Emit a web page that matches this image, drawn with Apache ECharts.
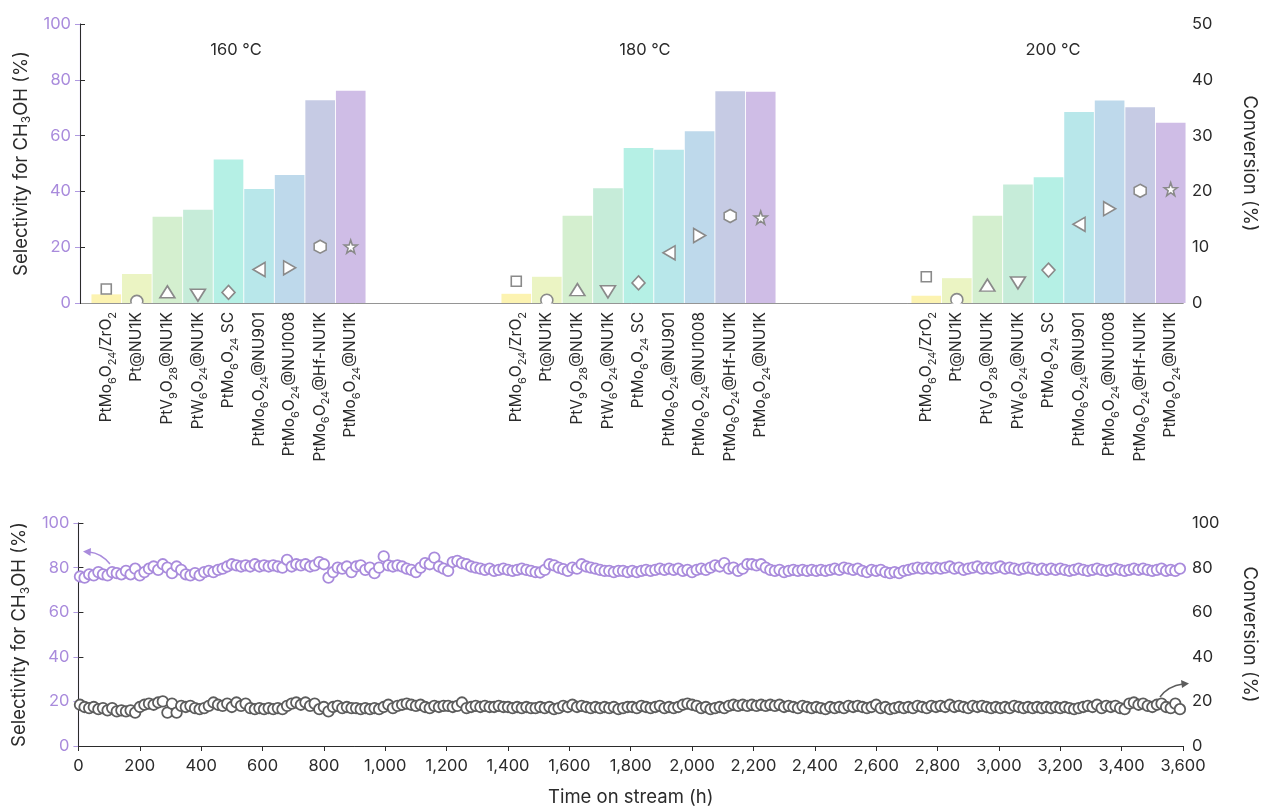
<!DOCTYPE html>
<html>
<head>
<meta charset="utf-8">
<script src="https://cdn.jsdelivr.net/npm/echarts@6/dist/echarts.min.js"></script>
<style>
html,body{margin:0;padding:0;background:#fff;}
#main{width:1267px;height:808px;}
</style>
</head>
<body>
<div id="main"></div>
<script>
// ---------- DATA ----------
const temps = ['160 °C', '180 °C', '200 °C'];
const catalysts = [
  'PtMo{s|6}O{s|24}/ZrO{s|2}',
  'Pt@NU1K',
  'PtV{s|9}O{s|28}@NU1K',
  'PtW{s|6}O{s|24}@NU1K',
  'PtMo{s|6}O{s|24} SC',
  'PtMo{s|6}O{s|24}@NU901',
  'PtMo{s|6}O{s|24}@NU1008',
  'PtMo{s|6}O{s|24}@Hf-NU1K',
  'PtMo{s|6}O{s|24}@NU1K'
];
// Selectivity for CH3OH (%) — bars, left axis
const sel160 = [3.1, 10.4, 30.9, 33.4, 51.4, 40.9, 45.9, 72.7, 76.1];
const sel180 = [3.3, 9.4, 31.3, 41.1, 55.6, 54.9, 61.6, 75.9, 75.7];
const sel200 = [2.6, 8.9, 31.3, 42.5, 45.1, 68.5, 72.6, 70.2, 64.6];
// Conversion (%) — markers, right axis
const conv160 = [2.5, 0.3, 2.0, 1.4, 1.9, 6.0, 6.3, 10.1, 10.1];
const conv180 = [3.9, 0.5, 2.4, 2.0, 3.6, 9.0, 12.1, 15.6, 15.3];
const conv200 = [4.7, 0.6, 3.2, 3.6, 5.9, 14.1, 16.9, 20.1, 20.4];

// Long-term stability
const timeH = [
  5,20,35,50,65,80,95,110,125,140,
  155,170,185,200,215,230,245,260,275,290,
  305,320,335,350,365,380,395,410,425,440,
  455,470,485,500,515,530,545,560,575,590,
  605,620,635,650,665,680,695,710,725,740,
  755,770,785,800,815,830,845,860,875,890,
  905,920,935,950,965,980,995,1010,1025,1040,
  1055,1070,1085,1100,1115,1130,1145,1160,1175,1190,
  1205,1220,1235,1250,1265,1280,1295,1310,1325,1340,
  1355,1370,1385,1400,1415,1430,1445,1460,1475,1490,
  1505,1520,1535,1550,1565,1580,1595,1610,1625,1640,
  1655,1670,1685,1700,1715,1730,1745,1760,1775,1790,
  1805,1820,1835,1850,1865,1880,1895,1910,1925,1940,
  1955,1970,1985,2000,2015,2030,2045,2060,2075,2090,
  2105,2120,2135,2150,2165,2180,2195,2210,2225,2240,
  2255,2270,2285,2300,2315,2330,2345,2360,2375,2390,
  2405,2420,2435,2450,2465,2480,2495,2510,2525,2540,
  2555,2570,2585,2600,2615,2630,2645,2660,2675,2690,
  2705,2720,2735,2750,2765,2780,2795,2810,2825,2840,
  2855,2870,2885,2900,2915,2930,2945,2960,2975,2990,
  3005,3020,3035,3050,3065,3080,3095,3110,3125,3140,
  3155,3170,3185,3200,3215,3230,3245,3260,3275,3290,
  3305,3320,3335,3350,3365,3380,3395,3410,3425,3440,
  3455,3470,3485,3500,3515,3530,3545,3560,3575,3590
];
const selTime = [
  76,75.5,77,76.5,78,77,76.5,78,77.5,77,
  78.5,77,79.5,76.5,78,79.5,80.5,79,81.5,80,
  77.5,80.5,79,77,76.5,77.5,76.5,78,78.5,78,
  79,79.5,80.5,81.5,81,80.5,81,80.5,81.5,80.5,
  81,80.5,81,80.5,80,83.5,80.5,81.5,81,81.5,
  80.5,81,82.5,81.5,75.5,78,80,79.5,80.5,78,
  80.5,81,79,80,77.5,80,85,81,80.5,81,
  80.5,79.5,79,78,80,82,81.5,84.5,80.5,79.5,
  78.5,82.5,83,82,81.5,80.5,80,79.5,79,79.5,
  78.5,79,79.5,79,78.5,79,79.5,79,78.5,78,
  77.8,79,81.5,81,80,79.3,78.5,80,79.5,81.5,
  80.5,80,79.5,79,78.5,78.5,78,78.5,78.5,78,
  78.5,78,78.5,79,78.5,79,79.5,79,79.5,79,
  79.5,78.5,79,78,79,79.5,79,80,81,80.5,
  82,79.5,80,78.5,79.5,81.5,81.5,81,81.5,80,
  79,78.5,79,78,78.5,79,78.5,79,78.5,79,
  78.5,79,78.5,79,79.5,79,80,79.5,79,79.5,
  78.5,78,79,78.5,79,78,77.5,78,77.5,78.5,
  79,79.5,80,79.5,80,79.5,80,79.5,80,80.5,
  79.5,80,79,79.5,80,80.5,79.5,80,79.5,80,
  80.5,79.5,80,79.5,79,79.5,80,79.5,79,79.5,
  79,79.5,79,79.5,79,78.5,79,79.5,79,78.5,
  79,79.5,79,78.5,79,79.5,79,78.5,79,79.5,
  79,79.5,79,78.5,79,79.5,78.5,79,78.5,79.5
];
const convTime = [
  18.5,17.5,17,17.5,16.5,17,16,17,15.5,16,
  15.5,16,15,17.5,18.5,19,18.5,19.5,20,15,
  19,15,18,17.5,18,17,16.5,17,18,19.5,
  18.5,18,19,17.5,19.5,18,19,17,16.5,17,
  16.5,17,16.5,17,16.5,18,19,19.5,18.5,19.5,
  18,19,16.5,17.5,15.5,17.5,18,17,17.5,17,
  17,16.5,17,16.5,17,16.5,17.5,18.5,17,18,
  18.5,19,18.5,18,18.5,17.5,17,18,17.5,18,
  18,17.5,18,19.5,17,17.5,18,17.5,18,17.5,
  17.5,18,17.5,17.5,17,17.5,17,17.5,17,17,
  17.5,17,17.5,16.5,17,18,17.5,18.5,17.5,18,
  17.5,17,17.5,17,17.5,17,17.5,16.5,17,17.5,
  17.5,17,18,17.5,17,17.5,18,17,17.5,17,
  17.5,18.5,19,18.5,18,17,17.5,16.5,17,17.5,
  17,18,18.5,18,18.5,18,18.5,18,18.5,18,
  18.5,18,18.5,17.5,18,17.5,17,18,17.5,17,
  17.5,17,16.5,17.5,17,17.5,17,18,17.5,18,
  17.5,17,17.5,18.5,17,17.5,16.5,17,17.5,17,
  17.5,17,18,17.5,17,18,17.5,18,17.5,18.5,
  17.5,18,17.5,17,18,17.5,18,17.5,17,17.5,
  17,17.5,17,18,17.5,17,17.5,17,17.5,17,
  17.5,17,17.5,17,17.5,17,16.5,17,17.5,18,
  17.5,18.5,17,18,17.5,18,17,16.5,19,19.5,
  18.5,19,18,17.5,18.5,19,17.5,17,19,16.5
];

// ---------- STYLE ----------
const FONT = 'Inter, "Noto Sans", sans-serif';
const PURPLE = '#a98bdc';
const PURPLE_AX = '#b09ae0';
const DARK = '#2b2b2b';
const GRAY_MK = '#8a8a8a';
const GRAY_PT = '#5c5c5c';
const barColors = ['#fcf3b1','#ebf4c3','#d4efcf','#c6ecd9','#b5f0e5','#b8e7ea','#bed9eb','#c6cbe4','#cfbde6'];
const HEX = 'path://M0,-10 L8.66,-5 L8.66,5 L0,10 L-8.66,5 L-8.66,-5 Z';
const STAR = 'path://M0,-10 L2.35,-3.24 L9.51,-3.09 L3.8,1.24 L5.88,8.09 L0,4 L-5.88,8.09 L-3.8,1.24 L-9.51,-3.09 L-2.35,-3.24 Z';
const markerDefs = [
  {symbol:'rect', size:[10,10], rot:0},
  {symbol:'circle', size:[12,12], rot:0},
  {symbol:'triangle', size:[15,12], rot:0},
  {symbol:'triangle', size:[15,12], rot:180},
  {symbol:'diamond', size:[13,14], rot:0},
  {symbol:'triangle', size:[14,12], rot:90},
  {symbol:'triangle', size:[14,12], rot:-90},
  {symbol:HEX, size:[12,13], rot:0},
  {symbol:STAR, size:[13,13], rot:0}
];

const TOP = 24, TOPH = 279;
const groupLefts = [91, 501, 911];
const GROUPW = 275;

const selSets = [sel160, sel180, sel200];
const convSets = [conv160, conv180, conv200];

const subRich = {
  s: {fontSize: 11, fontFamily: FONT, verticalAlign: 'bottom', lineHeight: 10, color: DARK}
};

const grids = [
  {left: 80, right: 70, top: TOP, height: TOPH},
  ...groupLefts.map(l => ({left: l, width: GROUPW, top: TOP, height: TOPH})),
  {left: 77, right: 74, top: 523, height: 223}
];

const hiddenX = (gi, pos) => ({
  type: 'value', gridIndex: gi, min: 0, max: 1, position: pos,
  axisLine: {show: true, lineStyle: {color: DARK, width: 1}},
  axisTick: {show: false}, axisLabel: {show: false}, splitLine: {show: false}
});

const xAxes = [
  hiddenX(0, 'bottom'),
  hiddenX(0, 'top'),
  ...groupLefts.map((l, i) => ({
    type: 'category', gridIndex: i + 1, data: catalysts,
    axisLine: {show: false}, axisTick: {show: false},
    axisLabel: {
      interval: 0, rotate: 90, margin: 9, fontSize: 15.5, fontFamily: FONT,
      color: DARK, lineHeight: 23, rich: subRich
    }
  })),
  {
    type: 'value', gridIndex: 4, min: 0, max: 3600, interval: 200,
    name: 'Time on stream (h)', nameLocation: 'middle', nameGap: 42,
    nameTextStyle: {fontSize: 18.5, fontFamily: FONT, color: DARK},
    axisLine: {show: true, lineStyle: {color: DARK}},
    axisTick: {show: true, length: 5, lineStyle: {color: DARK}},
    axisLabel: {fontSize: 16.5, fontFamily: FONT, color: DARK, margin: 12,
      formatter: v => v.toLocaleString('en-US')},
    splitLine: {show: false}
  },
  hiddenX(4, 'top')
];

const selAxis = (gi, show) => ({
  type: 'value', gridIndex: gi, min: 0, max: 100, interval: 20, position: 'left',
  show: show,
  name: show ? 'Selectivity for CH{s|3}OH (%)' : '',
  nameLocation: 'middle', nameGap: 45,
  nameTextStyle: {fontSize: 18.5, fontFamily: FONT, color: DARK, lineHeight: 23, rich: {s: {fontSize: 12, fontFamily: FONT, verticalAlign: 'bottom', lineHeight: 11, color: DARK}}},
  axisLine: {show: true, lineStyle: {color: PURPLE_AX, width: 1.2}},
  axisTick: {show: true, length: 5, lineStyle: {color: PURPLE_AX}},
  axisLabel: {fontSize: 16.5, fontFamily: FONT, color: PURPLE, margin: 9},
  splitLine: {show: false}
});
const convAxis = (gi, show, max, interval) => ({
  type: 'value', gridIndex: gi, min: 0, max: max, interval: interval, position: 'right',
  show: show,
  name: show ? 'Conversion (%)' : '',
  nameLocation: 'middle', nameGap: 57, nameRotate: -90,
  nameTextStyle: {fontSize: 18.5, fontFamily: FONT, color: DARK},
  axisLine: {show: true, lineStyle: {color: DARK, width: 1}},
  axisTick: {show: true, length: 5, lineStyle: {color: DARK}},
  axisLabel: {fontSize: 16.5, fontFamily: FONT, color: DARK, margin: 9},
  splitLine: {show: false}
});

const yAxes = [
  selAxis(0, true), convAxis(0, true, 50, 10),
  selAxis(1, false), convAxis(1, false, 50, 10),
  selAxis(2, false), convAxis(2, false, 50, 10),
  selAxis(3, false), convAxis(3, false, 50, 10),
  selAxis(4, true), convAxis(4, true, 100, 20)
];

const series = [];
selSets.forEach((arr, i) => {
  series.push({
    type: 'bar', xAxisIndex: 2 + i, yAxisIndex: 2 + 2 * i,
    barCategoryGap: '3%', z: 2,
    data: arr.map((v, j) => ({value: v, itemStyle: {color: barColors[j]}})),
    silent: true
  });
});
convSets.forEach((arr, i) => {
  series.push({
    type: 'scatter', xAxisIndex: 2 + i, yAxisIndex: 3 + 2 * i, z: 5,
    data: arr.map((v, j) => ({
      value: v, symbol: markerDefs[j].symbol, symbolSize: markerDefs[j].size,
      symbolRotate: markerDefs[j].rot
    })),
    itemStyle: {color: '#ffffff', borderColor: GRAY_MK, borderWidth: 1.6, opacity: 1},
    silent: true
  });
});
series.push({
  type: 'scatter', xAxisIndex: 5, yAxisIndex: 8, z: 4,
  data: timeH.map((t, i) => [t, selTime[i]]),
  symbol: 'circle', symbolSize: 10.5,
  itemStyle: {color: '#ffffff', borderColor: PURPLE, borderWidth: 1.8, opacity: 1},
  silent: true
});
series.push({
  type: 'scatter', xAxisIndex: 5, yAxisIndex: 9, z: 4,
  data: timeH.map((t, i) => [t, convTime[i]]),
  symbol: 'circle', symbolSize: 10.5,
  itemStyle: {color: '#ffffff', borderColor: GRAY_PT, borderWidth: 1.8, opacity: 1},
  silent: true
});

const tempX = [236, 645, 1053];
const graphic = temps.map((t, i) => ({
  type: 'text', x: tempX[i], y: 50,
  style: {text: t, fontSize: 16.5, fontFamily: FONT, fill: DARK, textAlign: 'center', textVerticalAlign: 'middle'}
}));
// white mask just below the top chart's baseline (markers sitting on the axis are cut there)
graphic.push({type: 'rect', z: 20, shape: {x: 81, y: 303.6, width: 1110, height: 6}, style: {fill: '#ffffff'}, silent: true});
// annotation arrows
graphic.push(
  {type: 'bezierCurve', shape: {x1: 110, y1: 564, cpx1: 101, cpy1: 553, x2: 89, y2: 552},
   style: {stroke: PURPLE, lineWidth: 1.5, fill: null}},
  {type: 'polygon', shape: {points: [[83, 551.5], [91, 548], [90.5, 556]]}, style: {fill: PURPLE}},
  {type: 'bezierCurve', shape: {x1: 1160, y1: 697, cpx1: 1168, cpy1: 686, x2: 1183, y2: 684},
   style: {stroke: GRAY_PT, lineWidth: 1.5, fill: null}},
  {type: 'polygon', shape: {points: [[1189, 683.5], [1181, 680], [1182, 688]]}, style: {fill: GRAY_PT}}
);

const chart = echarts.init(document.getElementById('main'), null, {renderer: 'canvas'});
chart.setOption({
  animation: false,
  backgroundColor: '#ffffff',
  textStyle: {fontFamily: FONT},
  grid: grids,
  xAxis: xAxes,
  yAxis: yAxes,
  series: series,
  graphic: graphic
});
</script>
</body>
</html>
